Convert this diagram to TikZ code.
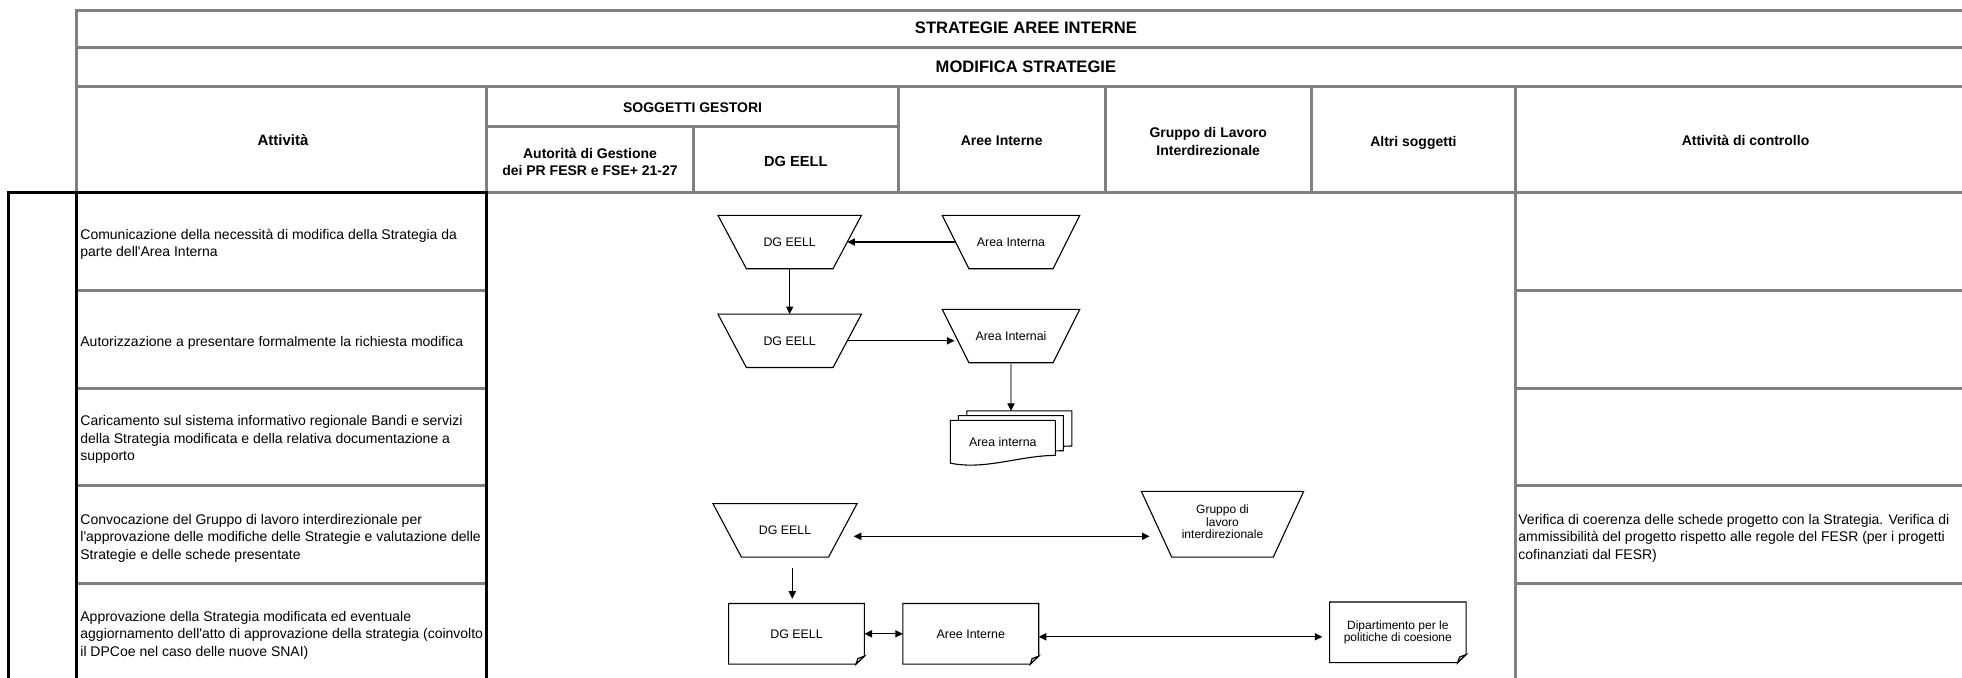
\documentclass[tikz,border=0pt]{standalone}
\usepackage{fontspec}
\setmainfont{Liberation Sans}[Ligatures=TeXOff]
\usetikzlibrary{arrows.meta,calc}
\definecolor{gridgray}{RGB}{128,128,128}
\newcommand\docpage[2]{%
  \draw[tshape,fill=white] ($(docs.north west)+(#1,#2)$) -- ($(docs.north east)+(#1,#2)$) -- ($(docs.south east)+(#1,#2-7.7)$) .. controls ($(docs.south east)+(#1-35,#2-7.7)$) and ($(docs.south west)+(#1+34.3,#2+7.3)$) .. ($(docs.south west)+(#1,#2)$) -- cycle;}
\newcommand\notedraw[1]{%
  \draw[tshape] (#1.north west) -- (#1.north east) -- ([yshift=4pt]#1.south east) -- ([xshift=-4.2pt]#1.south east) -- (#1.south west) -- cycle;
  \draw[tshape, fill=gray!45] ([yshift=4pt]#1.south east) -- ([xshift=-4.2pt]#1.south east) -- ([xshift=-3.3pt,yshift=2.8pt]#1.south east) -- cycle;}
\newcommand\trapdraw[2]{%
  \draw[tshape] (#1.north west) -- (#1.north east) -- ([xshift=-#2]#1.south east) -- ([xshift=#2]#1.south west) -- cycle;}
\begin{document}
\begin{tikzpicture}[x=0.5pt,y=-0.5pt,
  tgrid/.style={draw=gridgray, line width=1.5pt, line cap=rect},
  tblack/.style={draw=black, line width=1.5pt, line cap=rect},
  ttitle/.style={font=\fontsize{8.3}{10}\selectfont\bfseries, inner sep=0pt},
  thead/.style={font=\fontsize{7}{8.8}\selectfont\bfseries, align=center, inner sep=0pt},
  tbody/.style={font=\fontsize{7}{8.75}\selectfont, align=left, anchor=west, inner sep=0pt},
  tshape/.style={draw=black, line width=0.55pt},
  ttrap/.style={rectangle, inner sep=0pt, font=\fontsize{6.2}{7.5}\selectfont, align=center},
  tnote/.style={rectangle, inner sep=0pt, minimum width=67.5pt, minimum height=29.9pt, font=\fontsize{6.2}{7.5}\selectfont, align=center},
  tarr/.style={line width=0.55pt, -{Triangle[length=3.8pt,width=3.6pt]}},
  tarrg/.style={line width=0.55pt, draw=gray!85, -{Triangle[length=3.8pt,width=3.6pt,color=black]}},
  tdbl/.style={line width=0.55pt, {Triangle[length=3.8pt,width=3.6pt]}-{Triangle[length=3.8pt,width=3.6pt]}},
]
\useasboundingbox (0,0) rectangle (1962,677);
\clip (0,0) rectangle (1962,677);

% ---- table (gray)
\draw[tgrid] (76.8,10) -- (1975,10);
\draw[tgrid] (76.8,47.5) -- (1975,47.5);
\draw[tgrid] (76.8,86.3) -- (1975,86.3);
\draw[tgrid] (486.8,126.4) -- (898.4,126.4);
\draw[tgrid] (76.8,192.7) -- (1975,192.7);
\foreach \yy in {290.3,388,485.5,583.1}{
  \draw[tgrid] (76.8,\yy) -- (486.8,\yy);
  \draw[tgrid] (1515.3,\yy) -- (1975,\yy);
}
\draw[tgrid] (76.8,10) -- (76.8,192.7);
\draw[tgrid] (486.8,86.3) -- (486.8,192.7);
\draw[tgrid] (693.2,126.4) -- (693.2,192.7);
\draw[tgrid] (898.4,86.3) -- (898.4,192.7);
\draw[tgrid] (1105,86.3) -- (1105,192.7);
\draw[tgrid] (1311.4,86.3) -- (1311.4,192.7);
\draw[tgrid] (1515.3,86.3) -- (1515.3,700);
% ---- black frame
\draw[tblack] (8.8,700) -- (8.8,192.7) -- (486.8,192.7) -- (486.8,700);
\draw[tblack] (76.8,192.7) -- (76.8,700);

% ---- headers
\node[ttitle] (h1) at (1025.9,27.8) {STRATEGIE AREE INTERNE};
\node[ttitle] (h2) at (1025.9,66.6) {MODIFICA STRATEGIE};
\node[thead, font=\fontsize{7.5}{8.8}\selectfont\bfseries] (hatt) at (283,140.5) {Attività};
\node[thead] (hsg) at (692.6,107.5) {SOGGETTI GESTORI};
\node[thead] (hadg) at (590,162) {Autorità di Gestione\\dei PR FESR e FSE+ 21-27};
\node[thead, font=\fontsize{7.3}{8.8}\selectfont\bfseries] (hdg) at (795.8,161.5) {DG EELL};
\node[thead] (hai) at (1001.7,140.8) {Aree Interne};
\node[thead] (hgl) at (1208.2,141.5) {Gruppo di Lavoro\\Interdirezionale};
\node[thead] (hal) at (1413.4,142.5) {Altri soggetti};
\node[thead] (hac) at (1745.5,140.8) {Attività di controllo};

% ---- activity texts
\node[tbody] (r1) at (80,244.5) {Comunicazione della necessità di modifica della Strategia da\\parte dell'Area Interna};
\node[tbody] (r2) at (80,342.5) {Autorizzazione a presentare formalmente la richiesta modifica};
\node[tbody] (r3) at (80,439.8) {Caricamento sul sistema informativo regionale Bandi e servizi\\della Strategia modificata e della relativa documentazione a\\supporto};
\node[tbody] (r4) at (80,538) {Convocazione del Gruppo di lavoro interdirezionale per\\l'approvazione delle modifiche delle Strategie e valutazione delle\\Strategie e delle schede presentate};
\node[tbody] (r5) at (80,635) {Approvazione della Strategia modificata ed eventuale\\aggiornamento dell'atto di approvazione della strategia (coinvolto\\il DPCoe nel caso delle nuove SNAI)};
\node[tbody] (c4) at (1518,538) {Verifica di coerenza delle schede progetto con la Strategia. Verifica di\\ammissibilità del progetto rispetto alle regole del FESR (per i progetti\\cofinanziati dal FESR)};

% ---- flow shapes (inverted trapezoids)
\node[ttrap, minimum width=71.35pt, minimum height=26.3pt] (dg1) at (789.7,242) {DG EELL};
\trapdraw{dg1}{14.2pt}
\node[ttrap, minimum width=68.35pt, minimum height=26.3pt] (ai1) at (1011,242) {Area Interna};
\trapdraw{ai1}{13.35pt}
\node[ttrap, minimum width=71.35pt, minimum height=26.3pt] (dg3) at (789.7,340.8) {DG EELL};
\trapdraw{dg3}{14.2pt}
\node[ttrap, minimum width=68.35pt, minimum height=26.3pt] (ai2) at (1011,336) {Area Internai};
\trapdraw{ai2}{13.35pt}
\node[ttrap, minimum width=71.7pt, minimum height=26.35pt] (dg5) at (785,530.3) {DG EELL};
\trapdraw{dg5}{14.25pt}
\node[ttrap, minimum width=80.8pt, minimum height=32.5pt] (gr) at (1222.5,524.2) {};
\trapdraw{gr}{15.2pt}
\node[font=\fontsize{6}{6.3}\selectfont, align=center, inner sep=0pt] (grt) at ($(gr.center)+(0,-2.5)$) {Gruppo di\\lavoro\\interdirezionale};

% multi-document
\node[rectangle, inner sep=0pt, minimum width=52.15pt, minimum height=21pt] (docs) at (1002.85,441.7) {};
\docpage{16.5}{-9.4}
\docpage{8}{-4.7}
\docpage{0}{0}
\coordinate (docstop) at ($(docs.north)+(16.5,-9.4)$);
\node[font=\fontsize{6.2}{7.5}\selectfont, inner sep=0pt] (docst) at (docs.center) {Area interna};

% note boxes
\node[tnote] (dgr) at (796.5,633.8) {DG EELL};
\notedraw{dgr}
\node[tnote] (aree) at (970.8,633.8) {Aree Interne};
\notedraw{aree}
\node[tnote, minimum width=67.85pt, font=\fontsize{6}{6.2}\selectfont] (dip) at (1397.8,632.3) {Dipartimento per le\\politiche di coesione};
\notedraw{dip}

% ---- connectors
\coordinate (d5a) at ($(dg5.south)+(7.3,10.6)$);
\coordinate (d5b) at ($(dgr.north)+(0,-4.7)$);
\draw[tarr] ([xshift=6.7pt]ai1.west) -- ([xshift=-7.1pt]dg1.east);
\draw[tarr] (dg1.south) -- (dg3.north);
\draw[tarr] ([xshift=-7.1pt]dg3.east) -- ([xshift=6.15pt]dg3.east -| ai2.west);
\draw[tarrg] (ai2.south) -- (ai2.south |- docstop);
\draw[tdbl] ([xshift=-1.7pt,yshift=-3pt]dg5.east) -- ([xshift=4.15pt,yshift=-3pt]dg5.east -| gr.west);
\draw[tarr] (d5a) -- (d5a |- d5b);
\draw[tdbl] (dgr.east) -- (aree.west);
\draw[tdbl] ([yshift=-1.5pt]aree.east) -- ([xshift=-3.6pt,yshift=-1.5pt]aree.east -| dip.west);
\end{tikzpicture}
\end{document}
